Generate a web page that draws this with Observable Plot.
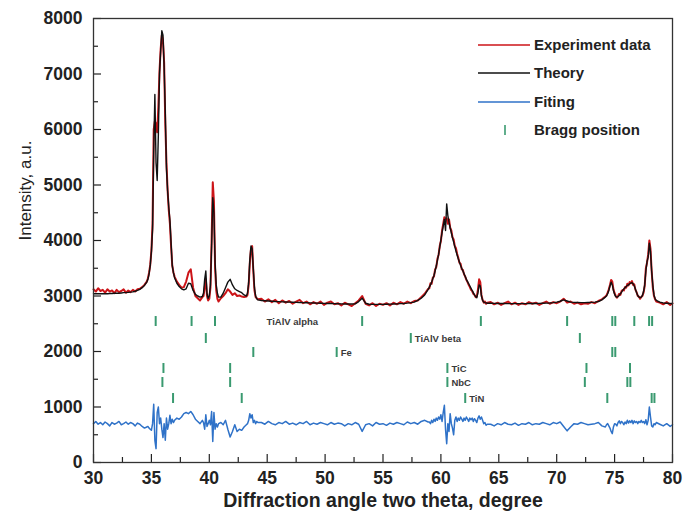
<!DOCTYPE html>
<html><head><meta charset="utf-8">
<script src="https://cdn.jsdelivr.net/npm/d3@7"></script>
<script src="https://cdn.jsdelivr.net/npm/@observablehq/plot@0.6"></script>
<style>body{margin:0;background:#fff;} svg{display:block}</style>
</head><body><div id="chart"></div>
<script>
// two-theta sampling positions (degrees)
const twoTheta = [
  30.0,30.2,30.4,30.6,30.8,31.0,31.2,31.4,31.6,31.8,32.0,32.2,32.4,32.6,32.8,33.0,33.2,33.4,33.6,33.8,34.0,34.2,34.4,34.6,
  34.7,34.8,34.9,35.0,35.1,35.2,35.3,35.4,35.5,35.6,35.7,35.8,35.9,36.0,36.1,36.2,36.3,36.4,36.5,36.6,36.7,36.8,36.9,
  37.0,37.2,37.4,37.6,37.8,38.0,38.2,38.4,38.6,38.8,39.0,39.2,39.4,
  39.5,39.6,39.7,39.8,39.9,40.0,40.1,40.2,40.3,40.4,40.5,40.6,40.7,40.8,
  41.0,41.2,41.4,41.6,41.8,42.0,42.2,42.4,42.6,42.8,43.0,43.2,
  43.3,43.4,43.5,43.6,43.7,43.8,43.9,44.0,44.1,44.2,
  44.5,44.8,45.1,45.4,45.7,46.0,46.3,46.6,46.9,47.2,47.5,47.8,48.1,48.4,48.7,49.0,49.3,49.6,49.9,50.2,
  50.5,50.8,51.1,51.4,51.7,52.0,52.3,52.6,52.9,53.2,53.5,53.8,54.1,54.4,54.7,55.0,55.3,55.6,55.9,56.2,
  56.5,56.8,57.1,57.4,57.7,58.0,58.3,58.6,58.9,
  59.0,59.1,59.2,59.3,59.4,59.5,59.6,59.7,59.8,59.9,60.0,60.1,60.2,60.3,60.4,60.5,60.6,60.7,60.8,60.9,
  61.0,61.1,61.2,61.3,61.4,61.5,61.6,61.7,61.8,61.9,62.0,62.1,62.2,62.3,62.4,62.5,62.6,62.7,62.8,62.9,
  63.0,63.1,63.2,63.3,63.4,63.5,63.6,63.7,63.8,63.9,64.0,
  64.3,64.6,64.9,65.2,65.5,65.8,66.1,66.4,66.7,67.0,67.3,67.6,67.9,68.2,68.5,68.8,69.1,69.4,69.7,70.0,
  70.3,70.6,70.9,71.2,71.5,71.8,72.1,72.4,72.7,73.0,73.3,73.6,73.9,74.2,
  74.3,74.4,74.5,74.6,74.7,74.8,74.9,75.0,75.1,75.2,75.3,75.4,75.5,75.6,75.7,75.8,75.9,76.0,76.1,76.2,
  76.3,76.4,76.5,76.6,76.7,76.8,76.9,77.0,77.1,77.2,77.3,77.4,77.5,77.6,77.7,77.8,77.9,78.0,78.1,78.2,
  78.3,78.4,78.5,78.6,
  78.9,79.2,79.5,79.8,80.0
];
const experiment = [
  3120,3080,3140,3090,3110,3060,3120,3080,3100,3050,3110,3070,3090,3120,3060,3100,3070,3110,3080,3120,3130,3160,3200,3260,
  3320,3420,3560,3820,4300,6000,6150,6100,5950,6400,7050,7450,7700,7600,7200,6100,5400,4900,4550,4300,3900,3550,3430,
  3350,3260,3200,3150,3160,3260,3420,3480,3150,3000,2960,2920,2980,
  3000,3150,3300,3000,2920,2950,3150,4000,5050,4700,3500,3100,2950,2900,
  2960,3000,3050,3120,3080,3020,3050,3000,3010,2990,2980,2990,
  3020,3200,3600,3850,3900,3450,3100,2980,2960,2940,
  2950,2900,2940,2890,2930,2870,2920,2880,2910,2860,2900,2930,2870,2900,2850,2890,2860,2900,2840,2880,
  2900,2850,2870,2830,2880,2850,2820,2870,2920,3000,2860,2830,2870,2820,2860,2840,2870,2830,2880,2850,
  2890,2860,2900,2870,2910,2920,2980,3040,3130,
  3140,3230,3220,3330,3350,3480,3520,3670,3740,3900,3990,4180,4300,4420,4380,4400,4300,4380,4230,4180,
  4060,4020,3900,3860,3760,3690,3600,3580,3480,3470,3390,3350,3290,3250,3200,3160,3110,3090,3040,3020,
  2980,2990,3120,3300,3250,3020,2930,2880,2900,2860,2880,
  2890,2850,2880,2840,2870,2900,2850,2880,2840,2870,2850,2890,2860,2880,2840,2870,2900,2860,2890,2870,
  2900,2950,2880,2900,2860,2880,2850,2870,2860,2890,2870,2910,2940,2990,
  3010,3060,3120,3200,3290,3260,3120,3050,3000,2970,3000,3040,3020,3090,3110,3100,3160,3150,3220,3190,
  3250,3230,3270,3200,3210,3110,3070,3000,2990,2950,2980,3000,3060,3180,3500,3600,3750,4000,3850,3450,
  3150,3000,2940,2900,
  2880,2850,2890,2840,2870
];
const theory = [
  3040,3040,3040,3040,3040,3040,3040,3045,3045,3050,3050,3050,3055,3060,3060,3065,3070,3075,3085,3100,3120,3150,3190,3250,
  3300,3400,3550,3800,4200,5600,6630,5400,5080,5900,7000,7420,7780,7700,7120,6300,5300,4900,4600,4360,3950,3550,3420,
  3330,3230,3170,3130,3110,3130,3230,3220,3100,3030,3000,2980,2990,
  3050,3300,3450,3050,2960,3000,3200,3900,4770,4500,3600,3200,3050,2980,
  2980,3050,3150,3250,3300,3200,3130,3100,3080,3060,3020,3000,
  3050,3250,3650,3900,3850,3500,3150,3000,2950,2930,
  2920,2915,2910,2905,2900,2898,2895,2892,2890,2888,2885,2882,2880,2878,2876,2874,2872,2870,2868,2866,
  2864,2862,2860,2858,2857,2856,2855,2858,2900,2960,2870,2852,2850,2850,2850,2850,2851,2853,2855,2858,
  2862,2866,2872,2880,2890,2920,2960,3020,3120,
  3160,3200,3250,3310,3370,3450,3540,3640,3750,3880,4010,4140,4260,4380,4180,4660,4450,4330,4230,4140,
  4050,3970,3890,3810,3740,3670,3610,3550,3500,3450,3400,3350,3300,3260,3220,3180,3140,3100,3060,3020,
  2990,2970,3060,3200,3180,3000,2920,2890,2880,2875,2870,
  2870,2868,2866,2865,2864,2863,2862,2862,2862,2862,2863,2864,2865,2866,2868,2870,2872,2875,2880,2890,
  2905,2930,2910,2890,2885,2882,2880,2880,2882,2885,2890,2900,2930,2980,
  3000,3040,3100,3180,3250,3200,3100,3030,2990,2980,2990,3010,3040,3070,3100,3130,3150,3170,3190,3200,
  3220,3230,3240,3220,3180,3120,3060,3010,2980,2970,2980,3010,3080,3200,3450,3620,3700,3950,3800,3450,
  3200,3020,2950,2920,
  2890,2875,2870,2865,2862
];
const fitting = [
  700,740,690,720,680,730,700,660,720,690,710,740,680,700,730,690,720,700,660,710,690,650,620,640,
  650,620,600,580,700,1050,400,250,900,1000,700,800,600,450,700,400,800,600,700,850,700,780,720,
  760,800,780,820,880,900,880,920,860,780,740,700,760,
  720,600,860,650,700,760,680,920,380,900,600,700,640,700,
  720,680,760,600,460,560,680,560,600,580,640,680,
  700,760,880,800,860,720,760,700,740,720,
  720,690,740,700,680,720,700,740,690,710,680,720,700,740,680,710,690,720,700,680,
  720,690,710,700,660,700,680,720,690,560,680,700,660,720,690,700,670,710,690,720,
  700,680,730,700,720,690,740,760,730,
  730,700,760,720,780,740,800,760,820,780,860,740,900,1030,600,340,700,560,880,700,
  620,500,760,820,740,800,760,820,780,740,800,760,820,780,740,800,770,800,740,790,
  760,720,800,840,780,820,760,700,720,670,690,
  690,660,700,680,720,690,680,710,670,700,690,720,680,700,690,720,700,680,720,700,
  730,650,570,640,700,690,720,700,680,690,700,720,660,640,
  680,700,660,620,560,520,640,700,690,660,720,750,700,740,720,680,730,700,760,710,
  750,720,760,700,750,720,740,700,740,720,760,720,740,700,770,680,760,1000,820,660,
  640,700,680,720,
  690,660,700,650,680
];

// axis ticks
const xTicks = [30,35,40,45,50,55,60,65,70,75,80];
const xMinorTicks = [32.5,37.5,42.5,47.5,52.5,57.5,62.5,67.5,72.5,77.5];
const yTicks = [0,1000,2000,3000,4000,5000,6000,7000,8000];
const yMinorTicks = [500,1500,2500,3500,4500,5500,6500,7500];

// Bragg positions per phase
const phases = ["TiAlV alpha","TiAlV beta","Fe","TiC","NbC","TiN"];
const phaseLevel = [2540,2234,1982,1694,1441,1153];
const braggPositions = [
  [35.37,38.47,40.49,53.2,63.45,70.9,74.8,75.06,76.7,77.98,78.24],
  [39.7,57.4,72.0],
  [43.8,51.0,74.8,75.06],
  [36.04,41.8,60.56,72.57,76.33],
  [35.95,41.8,60.56,72.43,76.1,76.36],
  [36.87,42.8,62.1,74.37,78.2,78.44]
];
const phaseLabelTheta = [44.6,57.4,51.0,60.56,60.56,62.1];

const legendLabels = ["Experiment data","Theory","Fiting","Bragg position"];
const colors = {exp:"#cc1418", theory:"#111111", fit:"#2f72c8", bragg:"#3a9a70"};

const rows = twoTheta.map((t,i)=>({t, exp:experiment[i], th:theory[i], fit:fitting[i]}));
const bragg = phases.flatMap((p,i)=>braggPositions[i].map(t=>({phase:p, t, level:phaseLevel[i]})));
const labels = phases.map((p,i)=>({phase:p, t:phaseLabelTheta[i], level:phaseLevel[i]}));

const FONT = "Liberation Sans, Arial, sans-serif";

const plot = Plot.plot({
  width: 683,
  height: 520,
  marginLeft: 93,
  marginRight: 11,
  marginTop: 18,
  marginBottom: 58,
  style: {fontFamily: FONT, background: "#fff", color: "#222"},
  x: {domain: [30, 80]},
  y: {domain: [0, 8000]},
  marks: [
    Plot.line(rows, {x:"t", y:"exp", stroke: colors.exp, strokeWidth: 2}),
    Plot.line(rows, {x:"t", y:"th", stroke: colors.theory, strokeWidth: 1.4}),
    Plot.line(rows, {x:"t", y:"fit", stroke: colors.fit, strokeWidth: 1.5}),
    Plot.ruleX(bragg, {x:"t", y1:"level", y2:"level", insetTop:-5, insetBottom:-5, stroke: colors.bragg, strokeWidth: 2}),
    Plot.text(labels, {x:"t", y:"level", text:"phase", textAnchor:"start", dx: 4, fontSize: 9.5, fontWeight:"bold", fill:"#3a3a3a"}),
    // inward ticks
    Plot.ruleX(xTicks, {x: d=>d, y1: 0, y2: 0, insetTop: 0, insetBottom: 8, stroke:"#222", strokeWidth: 1.2}),
    Plot.ruleX(xMinorTicks, {x: d=>d, y1: 0, y2: 0, insetTop: 0, insetBottom: 5, stroke:"#222", strokeWidth: 1.2}),
    Plot.ruleY(yTicks, {y: d=>d, x1: 30, x2: 30, insetLeft: 0, insetRight: -8, stroke:"#222", strokeWidth: 1.2}),
    Plot.ruleY(yMinorTicks, {y: d=>d, x1: 30, x2: 30, insetLeft: 0, insetRight: -5, stroke:"#222", strokeWidth: 1.2}),
    Plot.axisX(xTicks, {tickSize: 0, tickPadding: 9, fontSize: 17.5, fontWeight: "bold", fill:"#222", label: null, tickFormat: d=>String(d)}),
    Plot.axisY(yTicks, {tickSize: 0, tickPadding: 11, fontSize: 17.5, fontWeight: "bold", fill:"#222", label: null, tickFormat: d=>String(d)}),
    Plot.text(["Diffraction angle two theta, degree"], {frameAnchor:"bottom", dy: 44, fontSize: 19.5, fontWeight:"bold", fill:"#222"}),
    Plot.text(["Intensity, a.u."], {frameAnchor:"left", dx: -68, rotate: -90, fontSize: 17, fill:"#222"}),
    Plot.frame({stroke:"#333", strokeWidth: 1.3})
  ]
});

// legend (inside the plot, top right)
const svg = d3.select(plot);
const lg = svg.append("g").attr("font-family", FONT).attr("font-size", 15).attr("font-weight","bold")
  .attr("fill","#222").attr("text-anchor","start");
const legendRows = [
  {label: legendLabels[0], color: colors.exp, kind: "line", y: 45},
  {label: legendLabels[1], color: colors.theory, kind: "line", y: 73},
  {label: legendLabels[2], color: colors.fit, kind: "line", y: 102},
  {label: legendLabels[3], color: colors.bragg, kind: "tick", y: 130}
];
legendRows.forEach(r => {
  if (r.kind === "line") {
    lg.append("line").attr("x1", 478).attr("x2", 530).attr("y1", r.y).attr("y2", r.y)
      .attr("stroke", r.color).attr("stroke-width", 1.6);
  } else {
    lg.append("line").attr("x1", 505).attr("x2", 505).attr("y1", r.y-5).attr("y2", r.y+5)
      .attr("stroke", r.color).attr("stroke-width", 1.6);
  }
  lg.append("text").attr("x", 534).attr("y", r.y).attr("dy", "0.35em").attr("text-anchor","start").text(r.label);
});

document.getElementById("chart").appendChild(plot);
</script>
</body></html>
